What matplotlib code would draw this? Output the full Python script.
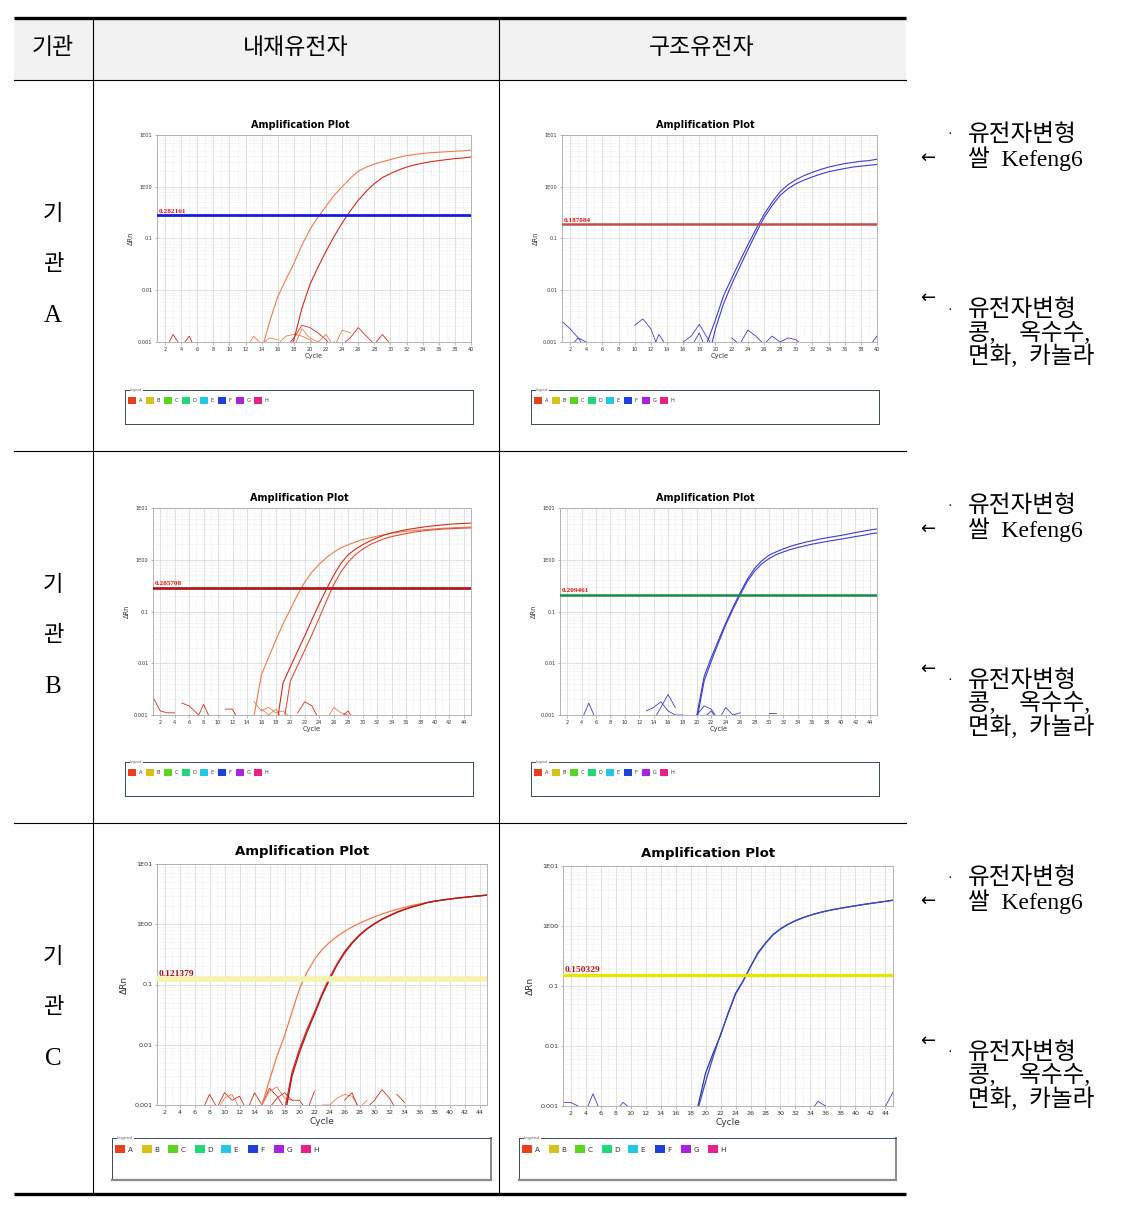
import numpy as np
import matplotlib
matplotlib.use("Agg")
import matplotlib.pyplot as plt
from matplotlib.patches import Rectangle
from matplotlib.ticker import FixedLocator, MultipleLocator, LogLocator, NullFormatter

# ---------------- data ----------------
HEADERS = ["기관", "내재유전자", "구조유전자"]
INSTITUTES = ["A", "B", "C"]
ANNOT_TOP = ["유전자변형", "쌀  Kefeng6"]
ANNOT_BOTTOM = ["유전자변형", "콩,    옥수수,", "면화,  카놀라"]

Y_TICKS = [10, 1, 0.1, 0.01, 0.001]
Y_TICK_LABELS = ["1E01", "1E00", "0.1", "0.01", "0.001"]
LEGEND_WELLS = ["A", "B", "C", "D", "E", "F", "G", "H"]
LEGEND_COLORS = ["#e8401c", "#d8c21a", "#5ad41e", "#22d67a", "#22c8e6", "#2040dc", "#a822e0", "#e8208a"]

# max cycle per plot
CYCLES_A = 40
CYCLES_BC = 45

# thresholds
THR_A_INT, THR_A_STR = 0.282161, 0.187084
THR_B_INT, THR_B_STR = 0.285708, 0.209461
THR_C_INT, THR_C_STR = 0.121379, 0.150329

# amplification curves: (start cycle, dRn values per cycle)
A_INT_ORANGE = (14, [0.0007, 0.0025, 0.0075, 0.016, 0.033, 0.075, 0.15, 0.26, 0.42, 0.68, 1.0, 1.45, 2.0,
                     2.4, 2.75, 3.05, 3.35, 3.7, 4.0, 4.2, 4.4, 4.55, 4.65, 4.75, 4.85, 4.95, 5.1])
A_INT_RED = (17, [0.0005, 0.0011, 0.0045, 0.013, 0.028, 0.057, 0.11, 0.2, 0.34, 0.55, 0.82, 1.15, 1.5,
                  1.8, 2.1, 2.4, 2.65, 2.85, 3.05, 3.2, 3.35, 3.5, 3.6, 3.75])
A_STR_1 = (18, [0.0004, 0.001, 0.0027, 0.0078, 0.017, 0.036, 0.075, 0.15, 0.29, 0.5, 0.8, 1.1, 1.38,
                1.65, 1.9, 2.15, 2.4, 2.6, 2.8, 2.95, 3.1, 3.2, 3.4])
A_STR_2 = (19, [0.0004, 0.0018, 0.0055, 0.013, 0.028, 0.06, 0.125, 0.25, 0.43, 0.68, 0.92, 1.15, 1.35,
                1.55, 1.75, 1.95, 2.1, 2.25, 2.4, 2.5, 2.6, 2.7])

B_INT_ORANGE = (14, [0.0006, 0.001, 0.006, 0.013, 0.028, 0.058, 0.11, 0.21, 0.37, 0.58, 0.82, 1.1, 1.4,
                     1.7, 1.95, 2.2, 2.45, 2.65, 2.85, 3.05, 3.25, 3.4, 3.55, 3.65, 3.75, 3.85, 3.95,
                     4.05, 4.1, 4.2, 4.25, 4.3])
B_INT_RED1 = (18, [0.0005, 0.0042, 0.0085, 0.017, 0.034, 0.07, 0.14, 0.27, 0.5, 0.85, 1.25, 1.6, 1.95,
                   2.3, 2.65, 3.0, 3.3, 3.55, 3.8, 4.0, 4.2, 4.4, 4.55, 4.7, 4.85, 4.95, 5.05, 5.1])
B_INT_RED2 = (19, [0.0006, 0.0045, 0.009, 0.018, 0.036, 0.075, 0.16, 0.33, 0.58, 0.9, 1.25, 1.6, 1.95,
                   2.25, 2.55, 2.8, 3.0, 3.2, 3.4, 3.55, 3.7, 3.8, 3.9, 3.97, 4.03, 4.08, 4.12])
B_STR_1 = (19, [0.0003, 0.001, 0.0055, 0.013, 0.028, 0.06, 0.12, 0.23, 0.42, 0.68, 0.95, 1.22, 1.42,
                1.62, 1.82, 2.0, 2.17, 2.33, 2.5, 2.65, 2.8, 2.95, 3.15, 3.35, 3.55, 3.75, 3.95])
B_STR_2 = (20, [0.0008, 0.0045, 0.011, 0.025, 0.055, 0.11, 0.21, 0.38, 0.6, 0.83, 1.05, 1.25, 1.42,
                1.58, 1.72, 1.86, 2.0, 2.12, 2.25, 2.38, 2.5, 2.65, 2.8, 2.95, 3.15, 3.3])

C_INT_ORANGE = (14, [0.0005, 0.001, 0.0026, 0.0065, 0.014, 0.035, 0.085, 0.16, 0.26, 0.38, 0.5, 0.63,
                     0.76, 0.9, 1.04, 1.18, 1.33, 1.48, 1.62, 1.77, 1.9, 2.05, 2.18, 2.3, 2.42, 2.52,
                     2.62, 2.72, 2.8, 2.88, 2.96, 3.05])
C_INT_RED1 = (18, [0.0008, 0.0035, 0.0085, 0.018, 0.035, 0.07, 0.13, 0.22, 0.35, 0.5, 0.67, 0.85, 1.03,
                   1.22, 1.4, 1.6, 1.78, 1.95, 2.1, 2.3, 2.42, 2.52, 2.62, 2.72, 2.8, 2.88, 2.96, 3.05])
C_INT_RED2 = (18, [0.0006, 0.003, 0.0075, 0.016, 0.032, 0.065, 0.12, 0.21, 0.33, 0.48, 0.65, 0.83, 1.01,
                   1.2, 1.38, 1.57, 1.75, 1.93, 2.08, 2.27, 2.4, 2.51, 2.61, 2.71, 2.79, 2.88, 2.96, 3.04])
C_STR_1 = (18, [0.0004, 0.001, 0.0035, 0.0075, 0.015, 0.035, 0.075, 0.12, 0.21, 0.36, 0.52, 0.72, 0.9,
                1.07, 1.23, 1.38, 1.52, 1.65, 1.77, 1.88, 1.98, 2.08, 2.18, 2.28, 2.38, 2.48, 2.58, 2.7])
C_STR_2 = (18, [0.0003, 0.0009, 0.0025, 0.0065, 0.0155, 0.034, 0.073, 0.12, 0.21, 0.35, 0.51, 0.71, 0.89,
                1.06, 1.22, 1.37, 1.51, 1.64, 1.76, 1.87, 1.97, 2.07, 2.17, 2.27, 2.37, 2.47, 2.57, 2.68])

# baseline noise traces: (start cycle, dRn values)
A_INT_NOISE = [(2, [0.0007, 0.0014, 0.0008, 0.0013, 0.0006]),
               (12, [0.0007, 0.0013, 0.0009, 0.0012, 0.0011]),
               (16, [0.0009, 0.0013, 0.0014, 0.0013, 0.0011, 0.0008, 0.0009]),
               (17, [0.0008, 0.0012, 0.0021, 0.0019, 0.0015, 0.0011, 0.0007]),
               (18, [0.0008, 0.0018, 0.0012, 0.0010, 0.0014, 0.0008, 0.0017, 0.0015]),
               (22, [0.0008, 0.0010, 0.0009, 0.0012, 0.0019, 0.0013, 0.0009, 0.0014, 0.0009])]
A_STR_NOISE = [(1, [0.0025, 0.0018, 0.0012, 0.0010, 0.0008]),
               (2, [0.0008, 0.0012, 0.0007]),
               (10, [0.0021, 0.0028, 0.0018, 0.0007]),
               (12, [0.0006, 0.0014, 0.0008]),
               (16, [0.0010, 0.0013, 0.0022, 0.0012, 0.0007]),
               (17, [0.0008, 0.0015, 0.0006]),
               (22, [0.0012, 0.0009, 0.0017, 0.0013, 0.0009, 0.0013, 0.0010, 0.0012, 0.0011, 0.0008]),
               (39, [0.0008, 0.0013])]
B_INT_NOISE = [(1, [0.0022, 0.0012, 0.0011, 0.0011]),
               (5, [0.0017, 0.0015, 0.0011, 0.0008]),
               (7, [0.0008, 0.0016, 0.0008]),
               (11, [0.0013, 0.0013, 0.0007]),
               (15, [0.0018, 0.0012, 0.0014, 0.0011, 0.0012, 0.0009]),
               (16, [0.0013, 0.0010, 0.0013, 0.0008]),
               (21, [0.0011, 0.0018, 0.0015, 0.0008]),
               (25, [0.0008, 0.0014, 0.0011, 0.0010, 0.0007]),
               (27, [0.0009, 0.0012, 0.0007])]
B_STR_NOISE = [(4, [0.0008, 0.0017, 0.0008]),
               (13, [0.0012, 0.0014, 0.0018, 0.0012, 0.0010, 0.0010]),
               (14, [0.0008, 0.0014, 0.0025, 0.0014]),
               (20, [0.0010, 0.0015, 0.0013, 0.0008]),
               (21, [0.0009, 0.0012, 0.0007]),
               (23, [0.0008, 0.0014, 0.0010, 0.0011]),
               (30, [0.0011, 0.0011])]
C_INT_NOISE = [(7, [0.0008, 0.0015, 0.0009, 0.0016, 0.0012, 0.0014, 0.0008]),
               (9, [0.0008, 0.0013, 0.0015, 0.0009]),
               (13, [0.0008, 0.0016, 0.0010, 0.0019, 0.0014, 0.0009]),
               (15, [0.0010, 0.0017, 0.0020, 0.0013, 0.0012]),
               (16, [0.0009, 0.0013, 0.0016, 0.0012, 0.0012, 0.0008, 0.0017]),
               (23, [0.0010, 0.0010, 0.0013, 0.0015, 0.0014, 0.0009, 0.0012]),
               (26, [0.0012, 0.0016, 0.0008]),
               (29, [0.0009, 0.0012, 0.0018, 0.0013, 0.0008]),
               (33, [0.0015, 0.0011])]
C_STR_NOISE = [(1, [0.00115, 0.00115, 0.0010]),
               (4, [0.0008, 0.0016, 0.0008]),
               (8, [0.0008, 0.00115, 0.0009]),
               (34, [0.0008, 0.0012, 0.0010]),
               (43, [0.0008, 0.0010, 0.0017])]

ORANGE = "#f07a4a"
RED = "#d42a1e"
BLUE = "#3c3cd0"

# ---------------- figure ----------------
W, H = 1123, 1206
fig = plt.figure(figsize=(W / 100, H / 100), dpi=100)
fig.patch.set_facecolor("white")


def px_axes(x0, y0, x1, y1):
    return fig.add_axes([x0 / W, 1 - y1 / H, (x1 - x0) / W, (y1 - y0) / H])


KFONT = ["Liberation Serif", "Noto Sans CJK KR", "DejaVu Sans"]

bg = px_axes(0, 0, W, H)
bg.set_xlim(0, W)
bg.set_ylim(H, 0)
bg.axis("off")

# table
TL, TR = 14, 906
ROW_TOPS = [80, 451, 823]
bg.add_patch(Rectangle((TL, 18), TR - TL, 62, facecolor="#f2f2f2", edgecolor="none"))
bg.plot([TL, TR], [18, 18], color="black", lw=2.4, solid_capstyle="butt")
bg.plot([TL, TR], [1194, 1194], color="black", lw=2.4, solid_capstyle="butt")
for y in ROW_TOPS:
    bg.plot([TL, TR], [y, y], color="black", lw=0.8)
for x in [93, 499]:
    bg.plot([x, x], [18, 1194], color="black", lw=0.8)

for txt, x in zip(HEADERS, [53, 296, 702]):
    bg.text(x, 49, txt, ha="center", va="center", fontsize=16.5, family=KFONT, fontweight="light")

for inst, yt in zip(INSTITUTES, ROW_TOPS):
    bg.text(53, yt + 135, "기", ha="center", va="center", fontsize=16, family=KFONT, fontweight="light")
    bg.text(53, yt + 185, "관", ha="center", va="center", fontsize=16, family=KFONT, fontweight="light")
    bg.text(53, yt + 236, inst, ha="center", va="center", fontsize=18, family=KFONT)
    # right annotations
    bg.text(950, yt + 55, "·", ha="center", va="center", fontsize=10, family=KFONT)
    bg.text(968, yt + 55, ANNOT_TOP[0], ha="left", va="center", fontsize=17, family=KFONT, fontweight="light")
    bg.text(968, yt + 79, ANNOT_TOP[1], ha="left", va="center", fontsize=17, family=KFONT, fontweight="light")
    bg.text(928, yt + 78, "←", ha="center", va="center", fontsize=13, family="DejaVu Sans")
    bg.text(928, yt + 218, "←", ha="center", va="center", fontsize=13, family="DejaVu Sans")
    bg.text(950, yt + 230, "·", ha="center", va="center", fontsize=10, family=KFONT)
    for k, line in enumerate(ANNOT_BOTTOM):
        bg.text(968, yt + 230 + 23 * k, line, ha="left", va="center", fontsize=17, family=KFONT,
                fontweight="light")


def draw_curve(ax, curve, color, lw=0.8):
    start, vals = curve
    x = np.arange(start, start + len(vals))
    ax.plot(x, vals, color=color, lw=lw, solid_joinstyle="miter")


def amp_plot(rect, xmax, curves, colors, noise, noise_colors, thr, thr_color, thr_lw,
             lbl_color, title_x, big=False):
    ax = px_axes(*rect)
    ax.set_yscale("log")
    ax.set_xlim(1, xmax)
    ax.set_ylim(0.001, 10)
    ax.yaxis.set_major_locator(FixedLocator(Y_TICKS))
    ax.set_yticklabels(Y_TICK_LABELS)
    ax.yaxis.set_minor_locator(LogLocator(base=10, subs=np.arange(2, 10)))
    ax.yaxis.set_minor_formatter(NullFormatter())
    ax.xaxis.set_major_locator(FixedLocator(list(range(2, xmax + 1, 2))))
    ax.xaxis.set_minor_locator(MultipleLocator(1))
    ax.grid(which="major", axis="both", color="#d4d4d4", lw=0.5, ls="-")
    ax.grid(which="minor", axis="both", color="#dcdcdc", lw=0.4, ls=(0, (1, 1.5)))
    ax.set_axisbelow(True)
    ts = 4.6 if big else 3.6
    ax.tick_params(axis="both", which="major", labelsize=ts, length=1.8, width=0.4,
                   color="#808080", pad=1.5, labelcolor="#333333")
    ax.tick_params(axis="both", which="minor", length=0)
    for sp in ax.spines.values():
        sp.set_color("#a8a8a8")
        sp.set_linewidth(0.6)
    for nz, nc in zip(noise, noise_colors):
        draw_curve(ax, nz, nc, lw=0.6)
    for cv, cc in zip(curves, colors):
        draw_curve(ax, cv, cc, lw=0.9 if big else 0.8)
    ax.axhline(thr, color=thr_color, lw=thr_lw, zorder=5)
    ax.annotate(f"{thr:.6f}", xy=(0.0, thr), xycoords=("axes fraction", "data"),
                xytext=(1, 1.2), textcoords="offset points", ha="left", va="bottom",
                fontsize=6.8 if big else 5.2, color=lbl_color, fontweight="bold",
                family="Liberation Serif", zorder=6)
    ax.text(title_x, 1.025, "Amplification Plot", transform=ax.transAxes, ha="center",
            va="bottom", fontsize=9.5 if big else 7, fontweight="bold", family="DejaVu Sans")
    ax.set_xlabel("Cycle", fontsize=6.5 if big else 4.8, labelpad=1.5 if big else 1, color="#333333")
    ax.set_ylabel("ΔRn", fontsize=6.5 if big else 4.8, labelpad=4 if big else 3, color="#333333")
    return ax


def legend_box(rect, big=False):
    x0, y0, x1, y1 = rect
    lg = px_axes(*rect)
    w, h = x1 - x0, y1 - y0
    lg.set_xlim(0, w)
    lg.set_ylim(h, 0)
    lg.set_xticks([])
    lg.set_yticks([])
    for sp in lg.spines.values():
        sp.set_color("#3a4a5a")
        sp.set_linewidth(0.7)
    if big:
        lg.spines["bottom"].set_linewidth(1.6)
        lg.spines["bottom"].set_color("#8a8a8a")
        lg.spines["right"].set_linewidth(1.4)
        lg.spines["right"].set_color("#8a8a8a")
    lg.text(5, 0, "Legend", ha="left", va="center", fontsize=3.2 if big else 2.4,
            color="#666666", bbox=dict(facecolor="white", edgecolor="none", pad=0.3))
    step = 26.5 if big else 18
    sq = 10 if big else 8
    sy = 7
    for i, (lab, col) in enumerate(zip(LEGEND_WELLS, LEGEND_COLORS)):
        sx = 3 + i * step
        lg.add_patch(Rectangle((sx, sy), sq, sq * (0.8 if big else 0.9), facecolor=col,
                               edgecolor="none"))
        lg.text(sx + sq + 2.5, sy + sq * 0.45, lab, ha="left", va="center",
                fontsize=5.2 if big else 3.6, color="#333333")
    return lg


# Row A
amp_plot((157, 135, 471, 342), CYCLES_A, [A_INT_ORANGE, A_INT_RED], [ORANGE, RED],
         A_INT_NOISE, [RED, ORANGE, ORANGE, RED, ORANGE, RED],
         THR_A_INT, "#1a1ae6", 2.0, "#e01010", 0.455)
amp_plot((562, 135, 877, 342), CYCLES_A, [A_STR_1, A_STR_2], [BLUE, BLUE],
         A_STR_NOISE, [BLUE] * len(A_STR_NOISE),
         THR_A_STR, "#c05050", 1.8, "#e01010", 0.454)
legend_box((125, 390, 473, 424))
legend_box((531, 390, 879, 424))

# Row B
amp_plot((153, 508, 471, 715), CYCLES_BC, [B_INT_ORANGE, B_INT_RED1, B_INT_RED2], [ORANGE, RED, "#e0503a"],
         B_INT_NOISE, [RED, RED, RED, RED, ORANGE, ORANGE, RED, ORANGE, RED],
         THR_B_INT, "#b01c1c", 2.0, "#e01010", 0.46)
amp_plot((560, 508, 877, 715), CYCLES_BC, [B_STR_1, B_STR_2], [BLUE, BLUE],
         B_STR_NOISE, [BLUE] * len(B_STR_NOISE),
         THR_B_STR, "#1a8a4a", 1.8, "#e01010", 0.457)
legend_box((125, 762, 473, 796))
legend_box((531, 762, 879, 796))

# Row C
amp_plot((157, 864, 487, 1105), CYCLES_BC, [C_INT_ORANGE, C_INT_RED1, C_INT_RED2], [ORANGE, RED, "#b01818"],
         C_INT_NOISE, [RED, ORANGE, RED, ORANGE, RED, ORANGE, RED, RED, RED],
         THR_C_INT, "#f6f3b0", 4.0, "#a01010", 0.44, big=True)
amp_plot((563, 866, 893, 1106), CYCLES_BC, [C_STR_1, C_STR_2], ["#2a3aa8", "#3a4ac0"],
         C_STR_NOISE, [BLUE] * len(C_STR_NOISE),
         THR_C_STR, "#e6e600", 2.4, "#c01818", 0.44, big=True)
legend_box((112, 1138, 491, 1180), big=True)
legend_box((519, 1138, 896, 1180), big=True)

fig.savefig("out.png", dpi=100, facecolor="white")
